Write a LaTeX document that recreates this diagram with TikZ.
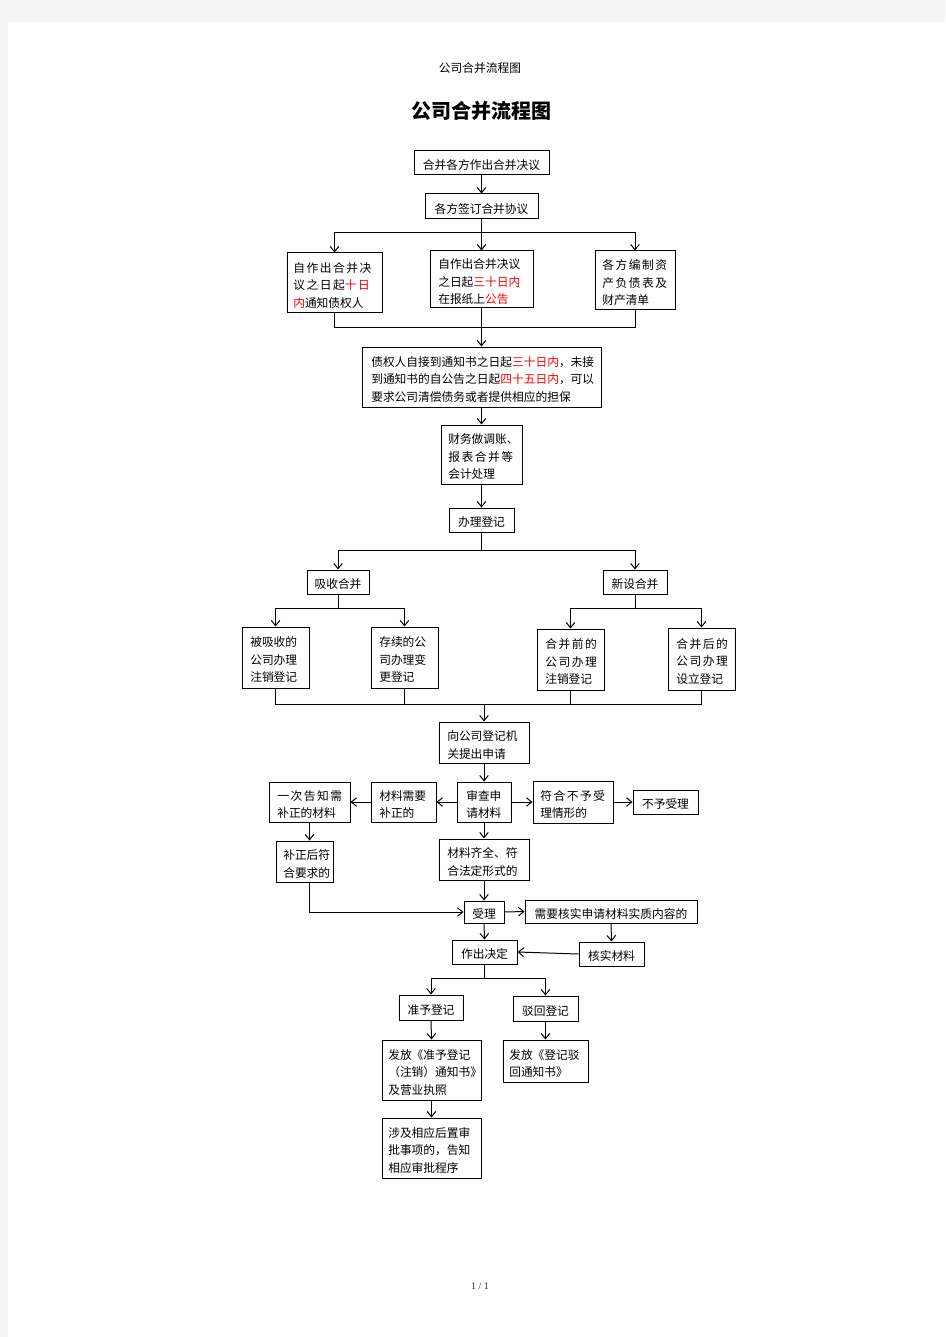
\documentclass[tikz,border=0pt]{standalone}
\usepackage{fontspec}
\setmainfont{Noto Sans CJK SC}
\newfontfamily\numfont{Liberation Serif}
\usetikzlibrary{fit,arrows.meta}
\definecolor{pagegrey}{HTML}{F3F3F3}
\newcommand\rd[1]{\textcolor{red}{#1}}
\newcommand\ls[1]{{\addfontfeature{LetterSpace=13}#1}}
\tikzset{
  boxr/.style={draw=black, line width=0.75pt, inner sep=0pt, minimum size=0pt},
  txt/.style={inner sep=0pt, align=left, yshift=-1.8pt, font=\fontsize{8.8pt}{13.1pt}\selectfont},
  conn/.style={draw=black, line width=0.75pt},
  arr/.style={conn, -{Straight Barb[length=4pt,width=6.5pt]}},
}
% left-aligned multi-line box: [pad]{name}{x1}{y1}{x2}{y2}{text}
\newcommand\BL[7][7]{%
  \node[boxr, fit={(#3,#4) (#5,#6)}] (#2) {};
  \node[txt, anchor=west] (#2-t) at ({#3+#1},{(#4+#6)/2}) {#7};}
% centred single-line box
\newcommand\BC[6]{%
  \node[boxr, fit={(#2,#3) (#4,#5)}] (#1) {};
  \node[txt] (#1-t) at (#1.center) {#6};}
\begin{document}
\begin{tikzpicture}[x=0.75pt,y=-0.75pt]
\useasboundingbox (0,0) rectangle (945,1337);
\fill[pagegrey] (0,0) rectangle (945,1337);
\fill[white] (8,22) rectangle (945,1337);

% header, title, footer
\node[inner sep=0pt, font=\fontsize{8.8pt}{11pt}\selectfont] (hdr) at (480,68) {公司合并流程图};
\node[inner sep=0pt, font=\fontsize{15pt}{18pt}\selectfont\bfseries] (title) at (481,111) {公司合并流程图};
\node[inner sep=0pt, font=\numfont\fontsize{7.5pt}{9pt}\selectfont, text=black!80] (pg) at (480,1286) {1 / 1};

% boxes
\BC{n1}{414}{151}{549}{175}{合并各方作出合并决议}
\BC{n2}{425}{194}{538}{219}{各方签订合并协议}
\BL[6]{n3a}{287}{253}{382}{313}{\ls{自作出合并决}\\\ls{议之日起\rd{十日}}\\\rd{内}通知债权人}
\BL[8]{n3b}{430}{251}{533}{308}{自作出合并决议\\之日起\rd{三十日内}\\在报纸上\rd{公告}}
\BL{n3c}{595}{251}{675}{310}{\ls{各方编制资}\\\ls{产负债表及}\\财产清单}
\BL[9]{n4}{362}{347}{601}{407}{债权人自接到通知书之日起\rd{三十日内}，未接\\到通知书的自公告之日起\rd{四十五日内}，可以\\要求公司清偿债务或者提供相应的担保}
\BL{n5}{441}{425}{522}{484}{财务做调账、\\\ls{报表合并等}\\会计处理}
\BC{n6}{449}{508}{514}{532}{办理登记}
\BC{n7a}{307}{570}{369}{594}{吸收合并}
\BC{n7b}{603}{570}{667}{594}{新设合并}
\BL[8]{n8a}{242}{627}{309}{688}{被吸收的\\公司办理\\注销登记}
\BL[8]{n8b}{371}{627}{438}{688}{存续的公\\司办理变\\更登记}
\BL[8]{n8c}{537}{629}{604}{690}{\ls{合并前的}\\\ls{公司办理}\\注销登记}
\BL[8]{n8d}{668}{628}{735}{690}{\ls{合并后的}\\\ls{公司办理}\\设立登记}
\BL[8]{n9}{439}{722}{529}{763}{向公司登记机\\关提出申请}
\BL[9]{n10}{457}{782}{511}{822}{审查申\\请材料}
\BL[8]{n11}{371}{782}{436}{822}{材料需要\\补正的}
\BL[8]{n12}{269}{782}{350}{822}{\ls{一次告知需}\\补正的材料}
\BL[7]{n13}{533}{781}{613}{823}{\ls{符合不予受}\\理情形的}
\BC{n14}{633}{790}{698}{814}{不予受理}
\BL[7]{n15}{276}{841}{333}{882}{补正后符\\合要求的}
\BL[8]{n16}{439}{839}{529}{880}{材料齐全、符\\合法定形式的}
\BC{n17}{464}{901}{504}{923}{受理}
\BC{n18}{525}{900}{697}{923}{需要核实申请材料实质内容的}
\BC{n19}{579}{942}{644}{966}{核实材料}
\BC{n20}{452}{940}{517}{964}{作出决定}
\BC{n21}{399}{995}{463}{1020}{准予登记}
\BC{n22}{513}{996}{578}{1021}{驳回登记}
\BL[6]{n23}{382}{1040}{481}{1100}{发放《准予登记\\（注销）通知书》\\及营业执照}
\BL[6]{n24}{503}{1040}{588}{1082}{发放《登记驳\\回通知书》}
\BL[6]{n25}{382}{1118}{481}{1178}{涉及相应后置审\\批事项的，告知\\相应审批程序}

% junction coordinates
\coordinate (j1) at (481.5,233);
\coordinate (j2) at (481.5,327);
\coordinate (j3) at (481.5,550);
\coordinate (j4) at (338,608);
\coordinate (j5) at (635,608);
\coordinate (j6) at (484,704);
\coordinate (j7) at (484.5,978);

% connectors
\draw[arr] (n1.south) -- (n2.north);
\draw[conn] (n2.south) -- (j1);
\draw[arr] (j1) -| (n3a.north);
\draw[arr] (j1) -| (n3c.north);
\draw[arr] (j1) -- (n3b.north);
\draw[conn] (n3a.south) |- (j2);
\draw[conn] (n3c.south) |- (j2);
\draw[conn] (n3b.south) -- (j2);
\draw[arr] (j2) -- (n4.north);
\draw[arr] (n4.south) -- (n5.north);
\draw[arr] (n5.south) -- (n6.north);
\draw[conn] (n6.south) -- (j3);
\draw[arr] (j3) -| (n7a.north);
\draw[arr] (j3) -| (n7b.north);
\draw[conn] (n7a.south) -- (j4);
\draw[arr] (j4) -| (n8a.north);
\draw[arr] (j4) -| (n8b.north);
\draw[conn] (n7b.south) -- (j5);
\draw[arr] (j5) -| (n8c.north);
\draw[arr] (j5) -| (n8d.north);
\draw[conn] (n8a.south) |- (j6);
\draw[conn] (n8b.south) |- (j6);
\draw[conn] (n8c.south) |- (j6);
\draw[conn] (n8d.south) |- (j6);
\draw[arr] (j6) -- (n9.north);
\draw[arr] (n9.south) -- (n10.north);
\draw[arr] (n10.west) -- (n11.east);
\draw[arr] (n11.west) -- (n12.east);
\draw[arr] (n10.east) -- (n13.west);
\draw[arr] (n13.east) -- (n14.west);
\draw[arr] (n12.south) -- (n12.south |- n15.north);
\draw[arr] (n10.south) -- (n16.north);
\draw[arr] (n16.south) -- (n17.north);
\draw[arr] ([xshift=3.75pt]n15.south) |- (n17.west);
\draw[arr] (n17.east) -- (n18.west);
\draw[arr] (n18.south) -- (n19.north);
\draw[arr] (n19.west) -- (n20.east);
\draw[arr] (n17.south) -- (n20.north);
\draw[conn] (n20.south) -- (j7);
\draw[arr] (j7) -| (n21.north);
\draw[arr] (j7) -| (n22.north);
\draw[arr] (n21.south) -- (n23.north);
\draw[arr] (n22.south) -- (n24.north);
\draw[arr] (n23.south) -- (n25.north);
\end{tikzpicture}
\end{document}
